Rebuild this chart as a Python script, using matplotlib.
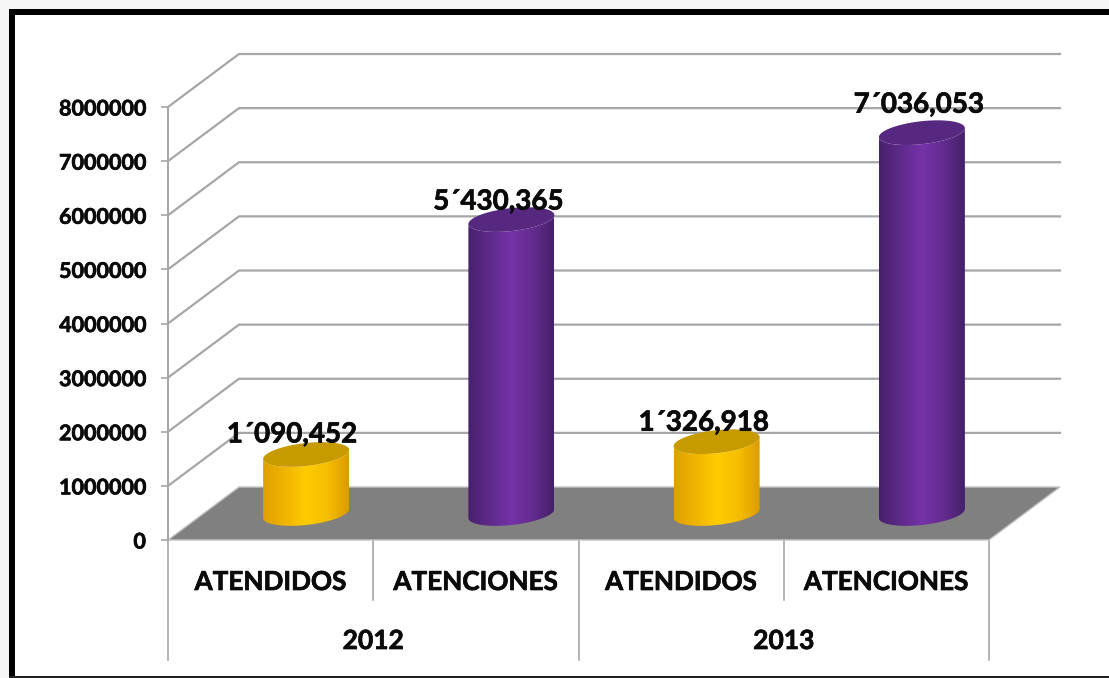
import numpy as np
import matplotlib
matplotlib.use("Agg")
import matplotlib.pyplot as plt
import matplotlib.patheffects as pe
from matplotlib.colors import LinearSegmentedColormap
from matplotlib.patches import Polygon, Rectangle, PathPatch
from matplotlib.path import Path

plt.rcParams['font.family'] = ['Lato', 'DejaVu Sans']

categories = ["ATENDIDOS", "ATENCIONES", "ATENDIDOS", "ATENCIONES"]
years = ["2012", "2013"]
values = [1090452, 5430365, 1326918, 7036053]
value_labels = ["1´090,452", "5´430,365", "1´326,918", "7´036,053"]
y_ticks = [0, 1000000, 2000000, 3000000, 4000000, 5000000, 6000000, 7000000, 8000000]

W, H = 1109, 678
LEFT, RIGHT, Y0, Y8 = 168, 989, 540, 107
fig = plt.figure(figsize=(W / 100, H / 100), dpi=100, facecolor="white")
heavy = [pe.withStroke(linewidth=0.5, foreground="#0a0a0a")]

# picture frame
for x, y, w, h, c in [(0, 0, W, 9, "#f5f5f5"), (0, 0, 9, H, "#f5f5f5"),
                      (9, 9, W - 9, 6, "black"), (9, 9, 6, H - 9, "black"),
                      (9, H - 2, W - 9, 2, "#222222")]:
    fig.add_artist(Rectangle((x / W, 1 - (y + h) / H), w / W, h / H,
                             transform=fig.transFigure, fc=c, ec="none"))

ax = fig.add_axes([LEFT / W, 1 - Y0 / H, (RIGHT - LEFT) / W, (Y0 - Y8) / H])
ax.patch.set_visible(False)
XLIM = (0, 4)
YLIM = (0, 8000000)
ax.set_xlim(*XLIM)
ax.set_ylim(*YLIM)
sx = (RIGHT - LEFT) / 4
sy = (Y0 - Y8) / 8000000
DX, DY = 71 / sx, 53 / sy     # depth of the 3-D box in data units

GRID = "#a6a6a6"
for s in ["top", "right", "bottom"]:
    ax.spines[s].set_visible(False)
ax.spines["left"].set_color(GRID)
ax.spines["left"].set_linewidth(1.4)
ax.set_yticks(y_ticks)
ax.set_yticklabels([str(v) for v in y_ticks], fontsize=15.5, fontweight="bold", color="#0a0a0a")
for lab in ax.get_yticklabels():
    lab.set_path_effects(heavy)
ax.tick_params(axis="y", length=5, width=1.2, color=GRID, pad=11)
ax.set_xticks([])

# walls
for v in y_ticks[1:]:
    ax.plot([0, DX, 4 + DX], [v, v + DY, v + DY], color=GRID, lw=1.6,
            clip_on=False, zorder=1, solid_joinstyle="miter")
# floor
ax.add_patch(Polygon([(0, 0), (DX, DY), (4 + DX, DY), (4, 0)], closed=True,
                     fc="#808080", ec="#c4c4c4", lw=1.0, clip_on=False, zorder=2))

# separators under the axis
def below(px):
    return -px / sy
for x, depth in [(0, 120), (1, 60), (2, 120), (3, 60), (4, 120)]:
    ax.plot([x, x], [0, below(depth)], color="#a0a0a0", lw=1.1,
            clip_on=False, zorder=1)

for i, c in enumerate(categories):
    ax.text(i + 0.5, below(42), c, ha="center", va="center", fontsize=18.8,
            fontweight="bold", color="#0a0a0a", clip_on=False, path_effects=heavy)
for i, y in enumerate(years):
    ax.text(2 * i + 1, below(101), y, ha="center", va="center", fontsize=19,
            fontweight="bold", color="#0a0a0a", clip_on=False, path_effects=heavy)

# cylinders
yellow = LinearSegmentedColormap.from_list("y", ["#E0A000", "#F0B400", "#FFCC00", "#F6BE00", "#DB9C00"])
purple = LinearSegmentedColormap.from_list("p", ["#47206C", "#5E2A8A", "#7632A8", "#642C90", "#45206A"])
styles = [(yellow, "#C79A00"), (purple, "#57287F")]
A, B, K = 43.0, 11.5, 4.5     # ellipse half width, half height, tilt (pixels)
grad = np.linspace(0, 1, 256).reshape(1, -1)

def arc(cx, cy, t):
    return np.column_stack([cx + A * np.cos(t) / sx,
                            cy + (-B * np.sin(t) + K * np.cos(t)) / sy])

for i, v in enumerate(values):
    cmap, top = styles[i % 2]
    cx = i + 0.5 + DX / 2
    y0 = DY / 2
    y1 = y0 + v
    t_low = np.linspace(np.pi, 2 * np.pi, 60)
    bottom = np.column_stack([cx + A * np.cos(t_low) / sx,
                              y0 + (B * np.sin(t_low) + K * np.cos(t_low)) / sy])
    upper = arc(cx, y1, np.linspace(0, np.pi, 60))
    verts = np.vstack([bottom, upper, bottom[:1]])
    clip = PathPatch(Path(verts, closed=True), transform=ax.transData, fc="none", ec="none")
    ax.add_patch(clip)
    clip.set_clip_on(False)
    ext = [cx - A / sx, cx + A / sx, y0 - 20 / sy, y1 + 20 / sy]
    im = ax.imshow(grad, cmap=cmap, extent=ext, aspect="auto", zorder=3,
                   interpolation="bilinear", origin="lower")
    im.set_clip_path(clip)
    ax.add_patch(Polygon(arc(cx, y1, np.linspace(0, 2 * np.pi, 90)), closed=True,
                         fc=top, ec="none", clip_on=False, zorder=4))

ax.set_xlim(*XLIM)
ax.set_ylim(*YLIM)

# data labels (offsets from the top of each cylinder, in pixels)
label_dx = [-14, -13, -13, -3]
label_dy = [20, 18, 19, 28]
for i, (v, t) in enumerate(zip(values, value_labels)):
    ax.text(i + 0.5 + DX / 2 + label_dx[i] / sx, DY / 2 + v + label_dy[i] / sy, t,
            ha="center", va="center", fontsize=20, fontweight="bold",
            color="#0a0a0a", clip_on=False, zorder=6, path_effects=heavy)

fig.savefig("out.png", dpi=100, facecolor="white")
